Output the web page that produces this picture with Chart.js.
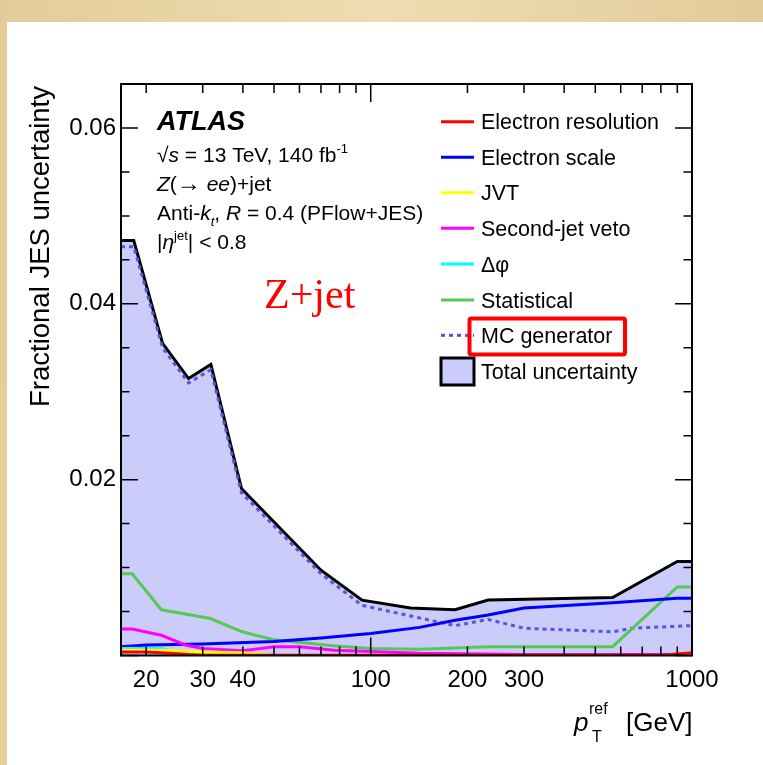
<!DOCTYPE html>
<html lang="en">
<head>
  <meta charset="UTF-8" />
  <title>Fractional JES uncertainty - Z+jet</title>
  <script src="https://cdn.jsdelivr.net/npm/chart.js"></script>
  <style>
    html, body { margin: 0; padding: 0; background: #e6d2a4; overflow: hidden; }
    canvas { display: block; }
  </style>
</head>
<body>
  <canvas id="grafica" width="763" height="765"></canvas>

  <script>
    // pT ref points (GeV) and fractional uncertainties, one pair of arrays per curve
    const totalPt = [16.7, 18.3, 22.5, 27.1, 31.8, 39.6, 70, 94, 133, 183, 232, 566, 900, 1000];
    const totalUnc = [0.0472, 0.0472, 0.0355, 0.0315, 0.0331, 0.0190, 0.0097, 0.0063, 0.0054, 0.0052, 0.0063, 0.0066, 0.0107, 0.0107];

    const mcPt = [16.7, 18.3, 22.5, 27.1, 31.8, 39.6, 70, 94, 133, 183, 232, 300, 566, 650, 1000];
    const mcUnc = [0.0465, 0.0465, 0.0350, 0.0310, 0.0325, 0.0185, 0.0093, 0.0057, 0.0045, 0.0034, 0.0041, 0.0031, 0.0027, 0.0031, 0.0034];

    const scalePt = [16.7, 20, 30, 50, 70, 100, 142, 183, 232, 300, 566, 900, 1000];
    const scaleUnc = [0.0010, 0.0012, 0.0013, 0.0016, 0.0020, 0.0025, 0.0032, 0.0040, 0.0046, 0.0054, 0.0060, 0.0065, 0.0065];

    const statPt = [16.7, 18.1, 22.3, 31.7, 39.8, 49.8, 76.5, 100, 142, 232, 566, 900, 1000];
    const statUnc = [0.0093, 0.0093, 0.0052, 0.0042, 0.0027, 0.0018, 0.0011, 0.0008, 0.0007, 0.0010, 0.0010, 0.0078, 0.0078];

    const vetoPt = [16.7, 18.1, 22.3, 26.5, 30, 40, 50, 60, 77, 142, 300, 1000];
    const vetoUnc = [0.0030, 0.0030, 0.0023, 0.0012, 0.0008, 0.00055, 0.0010, 0.0010, 0.0006, 0.00025, 0.0001, 0.0001];

    const dphiPt = [16.7, 22.3, 27, 30, 1000];
    const dphiUnc = [0.0008, 0.0008, 0.0001, 0, 0];

    const jvtPt = [16.7, 22.3, 30, 40, 50, 1000];
    const jvtUnc = [0.0006, 0.0006, 0.0004, 0.0003, 0, 0];

    const resPt = [16.7, 20, 22.3, 27, 30, 800, 1000];
    const resUnc = [0.0004, 0.0004, 0.0003, 0.0001, 0.00003, 0.00003, 0.0003];

    const yTicks = [0.02, 0.04, 0.06];
    const xTickLabels = [20, 30, 40, 100, 200, 300, 1000];

    const FONT = '"Liberation Sans", Arial, Helvetica, sans-serif';
    const lavanda = "#ccccfb";

    const toPts = (xs, ys) => xs.map((x, i) => ({ x: x, y: ys[i] }));

    function linea(label, xs, ys, color, extra) {
      return Object.assign({
        label: label,
        data: toPts(xs, ys),
        borderColor: color,
        borderWidth: 3,
        pointRadius: 0,
        fill: false,
        tension: 0
      }, extra || {});
    }

    // texto con partes en cursiva / super / subindice
    function rich(ctx, x, y, parts, size, align) {
      let w = 0;
      const items = parts.map(p => {
        const fs = p.s ? size * 0.62 : (p.fs || size);
        const font = (p.i ? "italic " : "") + (p.b ? "bold " : "") + fs + "px " + FONT;
        ctx.font = font;
        const dy = p.s === "sup" ? -size * 0.42 : p.s === "sub" ? size * 0.3 : 0;
        const it = { t: p.t, font: font, x: w + (p.dx || 0), dy: dy };
        w += (p.dx || 0) + ctx.measureText(p.t).width;
        return it;
      });
      const x0 = align === "right" ? x - w : align === "center" ? x - w / 2 : x;
      items.forEach(it => {
        ctx.font = it.font;
        ctx.fillText(it.t, x0 + it.x, y + it.dy);
      });
    }

    const decorado = {
      id: "decorado",
      beforeDraw(chart) {
        const ctx = chart.ctx;
        ctx.save();
        const g = ctx.createLinearGradient(0, 0, 763, 60);
        g.addColorStop(0, "#e3cc98");
        g.addColorStop(0.5, "#efdcb2");
        g.addColorStop(1, "#e2cb99");
        ctx.fillStyle = g;
        ctx.fillRect(0, 0, chart.width, chart.height);
        ctx.fillStyle = "#ffffff";
        ctx.fillRect(7, 22, chart.width - 7, chart.height - 22);
        ctx.restore();
      },
      afterDraw(chart) {
        const ctx = chart.ctx;
        const a = chart.chartArea;
        const xs = chart.scales.x, ys = chart.scales.y;
        ctx.save();

        // marco
        ctx.strokeStyle = "#000";
        ctx.lineWidth = 2;
        ctx.strokeRect(a.left, a.top, a.right - a.left, a.bottom - a.top);

        // marcas eje y (dentro, ambos lados)
        ctx.lineWidth = 1.5;
        ctx.beginPath();
        for (let k = 0; k <= 13; k++) {
          const v = k * 0.005;
          const py = ys.getPixelForValue(v);
          const len = (k % 4 === 0) ? 17 : 8.5;
          ctx.moveTo(a.left, py); ctx.lineTo(a.left + len, py);
          ctx.moveTo(a.right, py); ctx.lineTo(a.right - len, py);
        }
        // marcas eje x (log)
        for (let dec = 10; dec <= 1000; dec *= 10) {
          for (let m = 1; m <= 9; m++) {
            const v = dec * m;
            if (v < xs.min || v > xs.max) continue;
            const px = xs.getPixelForValue(v);
            const len = m === 1 ? 18 : 9;
            ctx.moveTo(px, a.bottom); ctx.lineTo(px, a.bottom - len);
            ctx.moveTo(px, a.top); ctx.lineTo(px, a.top + len);
          }
        }
        ctx.stroke();

        // etiquetas de los ejes
        ctx.fillStyle = "#000";
        ctx.font = "24px " + FONT;
        ctx.textBaseline = "middle";
        ctx.textAlign = "right";
        yTicks.forEach(v => ctx.fillText(v.toFixed(2), a.left - 5, ys.getPixelForValue(v)));
        ctx.textAlign = "center";
        ctx.textBaseline = "alphabetic";
        xTickLabels.forEach(v => ctx.fillText(String(v), xs.getPixelForValue(v), 687));

        // titulo eje y
        ctx.save();
        ctx.translate(49, a.top + 2);
        ctx.rotate(-Math.PI / 2);
        ctx.textAlign = "right";
        ctx.font = "27.5px " + FONT;
        ctx.fillText("Fractional JES uncertainty", 0, 0);
        ctx.restore();

        // titulo eje x
        ctx.textAlign = "left";
        ctx.font = "italic 26px " + FONT;
        ctx.fillText("p", 574, 731);
        ctx.font = "16px " + FONT;
        ctx.fillText("ref", 589, 714);
        ctx.fillText("T", 592, 742);
        ctx.font = "26px " + FONT;
        ctx.fillText("[GeV]", 626, 731);

        // etiqueta ATLAS
        ctx.font = "italic bold 27px " + FONT;
        ctx.fillText("ATLAS", 157, 130);
        rich(ctx, 157, 162, [{ t: "\u221A" }, { t: "s", i: true }, { t: " = 13 TeV, 140 fb" }, { t: "-1", s: "sup" }], 21);
        rich(ctx, 157, 191, [{ t: "Z", i: true }, { t: "(" }, { t: "\u2192", fs: 24 }, { t: " " }, { t: "ee", i: true }, { t: ")+jet" }], 21);
        rich(ctx, 157, 220, [{ t: "Anti-" }, { t: "k", i: true }, { t: "t", i: true, s: "sub" }, { t: ", " }, { t: "R", i: true }, { t: " = 0.4 (PFlow+JES)" }], 21);
        rich(ctx, 157, 249, [{ t: "|" }, { t: "\u03B7", i: true }, { t: "jet", s: "sup" }, { t: "| < 0.8" }], 21);

        // Z+jet en rojo
        ctx.fillStyle = "#ff0000";
        ctx.font = "42px \"Liberation Serif\", \"Times New Roman\", serif";
        ctx.fillText("Z+jet", 264, 308);

        // leyenda
        const filas = [121.7, 157.3, 192.7, 228.3, 264, 300, 335.3, 371];
        const dsets = chart.data.datasets;
        const orden = ["Electron resolution", "Electron scale", "JVT", "Second-jet veto", "\u0394\u03C6", "Statistical", "MC generator"];
        ctx.font = "21.5px " + FONT;
        orden.forEach((lab, i) => {
          const d = dsets.find(s => s.label === lab);
          const y = filas[i];
          ctx.strokeStyle = d.borderColor;
          ctx.lineWidth = 3;
          ctx.setLineDash(d.borderDash || []);
          ctx.beginPath();
          ctx.moveTo(441, y); ctx.lineTo(474, y);
          ctx.stroke();
          ctx.setLineDash([]);
          ctx.fillStyle = "#000";
          ctx.fillText(lab, 481, y + 7.5);
        });
        // caja total
        ctx.fillStyle = lavanda;
        ctx.fillRect(441, 358, 33, 27);
        ctx.strokeStyle = "#000";
        ctx.lineWidth = 3;
        ctx.strokeRect(441, 358, 33, 27);
        ctx.fillStyle = "#000";
        ctx.fillText("Total uncertainty", 481, filas[7] + 7.5);

        // recuadro rojo
        ctx.strokeStyle = "#ff0000";
        ctx.lineWidth = 4;
        ctx.beginPath();
        ctx.roundRect(469.5, 318.5, 155.5, 36, 2);
        ctx.stroke();

        ctx.restore();
      }
    };

    new Chart(document.getElementById("grafica"), {
      type: "line",
      data: {
        datasets: [
          linea("Electron resolution", resPt, resUnc, "#ff0000"),
          linea("JVT", jvtPt, jvtUnc, "#ffff00"),
          linea("\u0394\u03C6", dphiPt, dphiUnc, "#00ffff"),
          linea("Second-jet veto", vetoPt, vetoUnc, "#ff00ff"),
          linea("Electron scale", scalePt, scaleUnc, "#0000ff"),
          linea("Statistical", statPt, statUnc, "#55c855"),
          linea("MC generator", mcPt, mcUnc, "#5555dd", { borderDash: [4, 4] }),
          linea("Total uncertainty", totalPt, totalUnc, "#000000", { fill: "origin", backgroundColor: lavanda })
        ]
      },
      options: {
        responsive: false,
        animation: false,
        events: [],
        layout: { padding: { left: 121, top: 84, right: 71, bottom: 109.5 } },
        plugins: {
          legend: { display: false },
          tooltip: { enabled: false },
          filler: { drawTime: "beforeDatasetsDraw" }
        },
        scales: {
          x: { type: "logarithmic", min: 16.7, max: 1000, display: false },
          y: { type: "linear", min: 0, max: 0.065, display: false }
        }
      },
      plugins: [decorado]
    });
  </script>
</body>
</html>
